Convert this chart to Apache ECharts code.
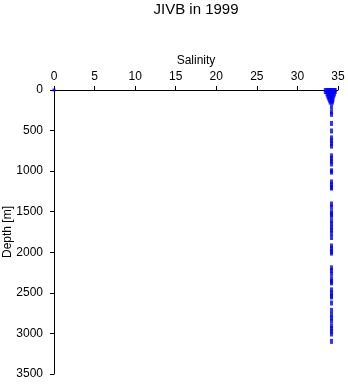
<!DOCTYPE html>
<html>
<head>
<meta charset="utf-8">
<script src="https://cdn.jsdelivr.net/npm/echarts@6/dist/echarts.min.js"></script>
<style>
html,body{margin:0;padding:0;background:#fff;}
#chart{width:348px;height:384px;}
</style>
</head>
<body>
<div id="chart"></div>
<script>
var titleText = 'JIVB in 1999';
var xTicks = [0, 5, 10, 15, 20, 25, 30, 35];
var yTicks = [0, 500, 1000, 1500, 2000, 2500, 3000, 3500];

// surface blob: salinity / depth pairs
var blobSalinity = [33.5, 33.7, 33.9, 34.1, 34.3, 34.5, 34.6,
                    33.5, 33.7, 33.9, 34.1, 34.3, 34.5, 34.6,
                    33.7, 33.9, 34.1, 34.3, 34.5,
                    33.8, 34.0, 34.2, 34.4,
                    33.9, 34.1, 34.3,
                    34.0, 34.2, 34.3,
                    34.1, 34.25];
var blobDepth = [0, 0, 0, 0, 0, 0, 0,
                 25, 25, 25, 25, 25, 25, 25,
                 55, 55, 55, 55, 55,
                 80, 80, 80, 80,
                 105, 105, 105,
                 130, 130, 130,
                 155, 155];

// deep column
var colDepth = [210, 270, 300, 412, 505, 590, 625, 660, 692, 812, 845, 880, 912,
                995, 1012, 1133, 1165, 1200, 1208, 1405, 1442, 1502, 1530, 1553,
                1613, 1650, 1690, 1725, 1762, 1818, 1922, 1955, 1990, 2010,
                2192, 2225, 2268, 2328, 2360, 2378, 2463, 2500, 2535, 2551,
                2625, 2716, 2771, 2810, 2847, 2907, 2940, 2975, 3007, 3098];
var colSalinity = [34.2, 34.2, 34.2, 34.2, 34.2, 34.2, 34.2, 34.2, 34.2, 34.2, 34.2, 34.2, 34.2,
                   34.2, 34.2, 34.2, 34.2, 34.2, 34.2, 34.2, 34.2, 34.2, 34.2, 34.2,
                   34.2, 34.2, 34.2, 34.2, 34.2, 34.2, 34.2, 34.2, 34.2, 34.2,
                   34.2, 34.2, 34.2, 34.2, 34.2, 34.2, 34.2, 34.2, 34.2, 34.2,
                   34.2, 34.2, 34.2, 34.2, 34.2, 34.2, 34.2, 34.2, 34.2, 34.2];

// stray surface point
var zeroSalinity = [0];
var zeroDepth = [0];

function pairs(xs, ys) { return xs.map(function (x, i) { return [x, ys[i]]; }); }

var chart = echarts.init(document.getElementById('chart'));
var font = 'Liberation Sans, Arial, sans-serif';
chart.setOption({
  animation: false,
  backgroundColor: '#fff',
  title: {
    text: titleText, left: 196, top: 2, padding: 0, textAlign: 'center',
    textStyle: { fontFamily: font, fontSize: 15, fontWeight: 'normal', color: '#000' }
  },
  grid: { left: 54, top: 90, right: 10, bottom: 10, containLabel: false, outerBoundsMode: 'none' },
  xAxis: {
    type: 'value', position: 'top', min: 0, max: 35, interval: 5,
    name: 'Salinity', nameLocation: 'middle', nameGap: 23, nameMoveOverlap: false,
    nameTextStyle: { fontFamily: font, fontSize: 12, color: '#000' },
    axisLine: { show: true, onZero: false, lineStyle: { color: '#000', width: 1 } },
    axisTick: { show: true, inside: false, length: 4, lineStyle: { color: '#000' } },
    axisLabel: { fontFamily: font, fontSize: 12, color: '#000', margin: 7,
                 formatter: function (v) { return String(v); } },
    splitLine: { show: false }
  },
  yAxis: {
    type: 'value', inverse: true, min: 0, max: 3500, interval: 500,
    name: 'Depth [m]', nameLocation: 'middle', nameGap: 46, nameMoveOverlap: false,
    nameTextStyle: { fontFamily: font, fontSize: 12, color: '#000', verticalAlign: 'middle' },
    axisLine: { show: true, onZero: false, lineStyle: { color: '#000', width: 1 } },
    axisTick: { show: true, inside: false, length: 4, lineStyle: { color: '#000' } },
    axisLabel: { fontFamily: font, fontSize: 12, color: '#000', margin: 11,
                 formatter: function (v) { return String(v); } },
    splitLine: { show: false }
  },
  series: [
    {
      type: 'scatter', data: pairs(blobSalinity, blobDepth),
      symbol: 'rect', symbolSize: 4, itemStyle: { color: '#0000ff' }
    },
    {
      type: 'scatter', data: pairs(colSalinity, colDepth),
      symbol: 'rect', symbolSize: [3, 5], itemStyle: { color: '#0000ff' }
    },
    {
      type: 'scatter', data: pairs(zeroSalinity, zeroDepth),
      symbol: 'rect', symbolSize: 3, itemStyle: { color: '#0000ff' }, z: 5
    }
  ]
});
</script>
</body>
</html>
